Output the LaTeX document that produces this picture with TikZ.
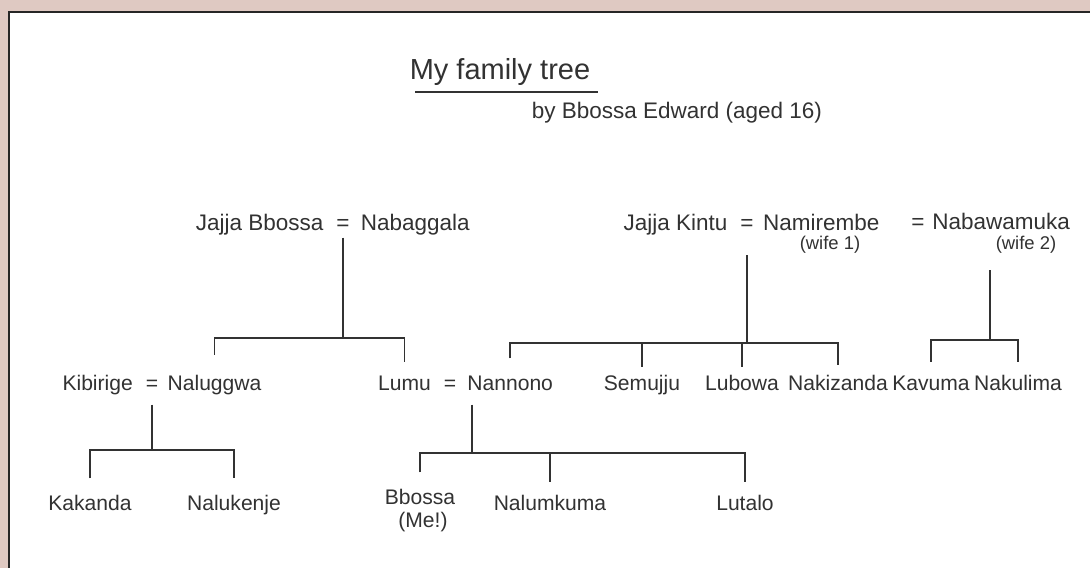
\documentclass[tikz,border=0pt]{standalone}
\usepackage{fontspec}
\setmainfont{Liberation Sans}
\definecolor{framebg}{RGB}{223,201,194}
\definecolor{ink}{RGB}{50,50,50}
\newcommand{\hand}{\fontsize{12}{14}\selectfont}
\usetikzlibrary{positioning}

\begin{document}
\begin{tikzpicture}[x=0.02cm, y=-0.02cm, font=\hand, text=ink,
  person/.style={inner sep=1pt, text height=9pt, text depth=3pt},
  elder/.style={person, font=\fontsize{12.8}{14}\selectfont},
  wife/.style={person, font=\fontsize{10.5}{12}\selectfont},
  link/.style={draw=ink, line width=0.8pt}]
\useasboundingbox (0,0) rectangle (1090,568);
% Frame
\fill[framebg] (0,0) rectangle (1090,568);
\fill[white] (9,12) rectangle (1090,568);
\draw[black!85, line width=1.1pt] (9,568) -- (9,12) -- (1090,12);

% Title
\node[font=\fontsize{16.5}{18}\selectfont] (title) at (500,72) {My family tree};
\draw[link] (415,92) -- (598,92);
\node[elder] (by) at (677,113) {by Bbossa Edward (aged 16)};

% Grandparents
\node[elder] (eq1) at (343,225) {=};
\node[elder, left=5pt of eq1] (jbb) {Jajja Bbossa};
\node[elder, right=4pt of eq1] (nab) {Nabaggala};
\node[elder] (eq2) at (747,225) {=};
\node[elder, left=5pt of eq2] (jki) {Jajja Kintu};
\node[elder, right=3pt of eq2] (nam) {Namirembe};
\node[wife] (w1) at (830,244) {(wife 1)};
\node[elder] (eq3) at (918,224) {=};
\node[elder, right=2pt of eq3] (nbw) {Nabawamuka};
\node[wife] (w2) at (1026,244) {(wife 2)};

% Parents and uncles
\node[person] (eq4) at (152,385) {=};
\node[person, left=5pt of eq4] (kib) {Kibirige};
\node[person, right=3pt of eq4] (nal) {Naluggwa};
\node[person] (eq5) at (450,385) {=};
\node[person, left=5pt of eq5] (lum) {Lumu};
\node[person, right=4pt of eq5] (nan) {Nannono};
\node[person] (sem) at (642,385) {Semujju};
\node[person] (lub) at (742,385) {Lubowa};
\node[person] (nak) at (838,385) {Nakizanda};
\node[person] (kav) at (931,385) {Kavuma};
\node[person] (nku) at (1018,385) {Nakulima};

% Grandchildren
\node[person] (kak) at (90,505) {Kakanda};
\node[person] (nlk) at (234,505) {Nalukenje};
\node[person] (bbo) at (420,499) {Bbossa};
\node[person] (me) at (423,522) {(Me!)};
\node[person] (nlm) at (550,505) {Nalumkuma};
\node[person] (lut) at (745,505) {Lutalo};

% Branches
\coordinate (j1) at (343,338);
\draw[link] (eq1) -- (j1);
\draw[link, shorten <=10pt, shorten >=6pt] (nal.north) |- (j1) -| (lum.north);

\coordinate (j2) at (747,343);
\draw[link, shorten <=10pt] (eq2) -- (j2);
\draw[link, shorten <=8pt, shorten >=4pt] (nan.north) |- (j2) -| (nak.north);
\draw[link, shorten >=3pt] (j2 -| sem.north) -- (sem.north);
\draw[link, shorten >=3pt] (j2 -| lub.north) -- (lub.north);

\coordinate (j3) at (990,340);
\draw[link, shorten <=19pt] (nbw.south -| j3) -- (j3);
\draw[link, shorten <=6pt, shorten >=6pt] (kav.north) |- (j3) -| (nku.north);

\coordinate (j4) at (152,450);
\draw[link, shorten <=4pt] (eq4) -- (j4);
\draw[link, shorten <=8pt, shorten >=8pt] (kak.north) |- (j4) -| (nlk.north);

\coordinate (j5) at (472,453);
\draw[link, shorten <=4pt] (nan.south -| j5) -- (j5);
\draw[link, shorten <=8pt, shorten >=6pt] (bbo.north) |- (j5) -| (lut.north);
\draw[link, shorten >=6pt] (j5 -| nlm.north) -- (nlm.north);
\end{tikzpicture}
\end{document}
